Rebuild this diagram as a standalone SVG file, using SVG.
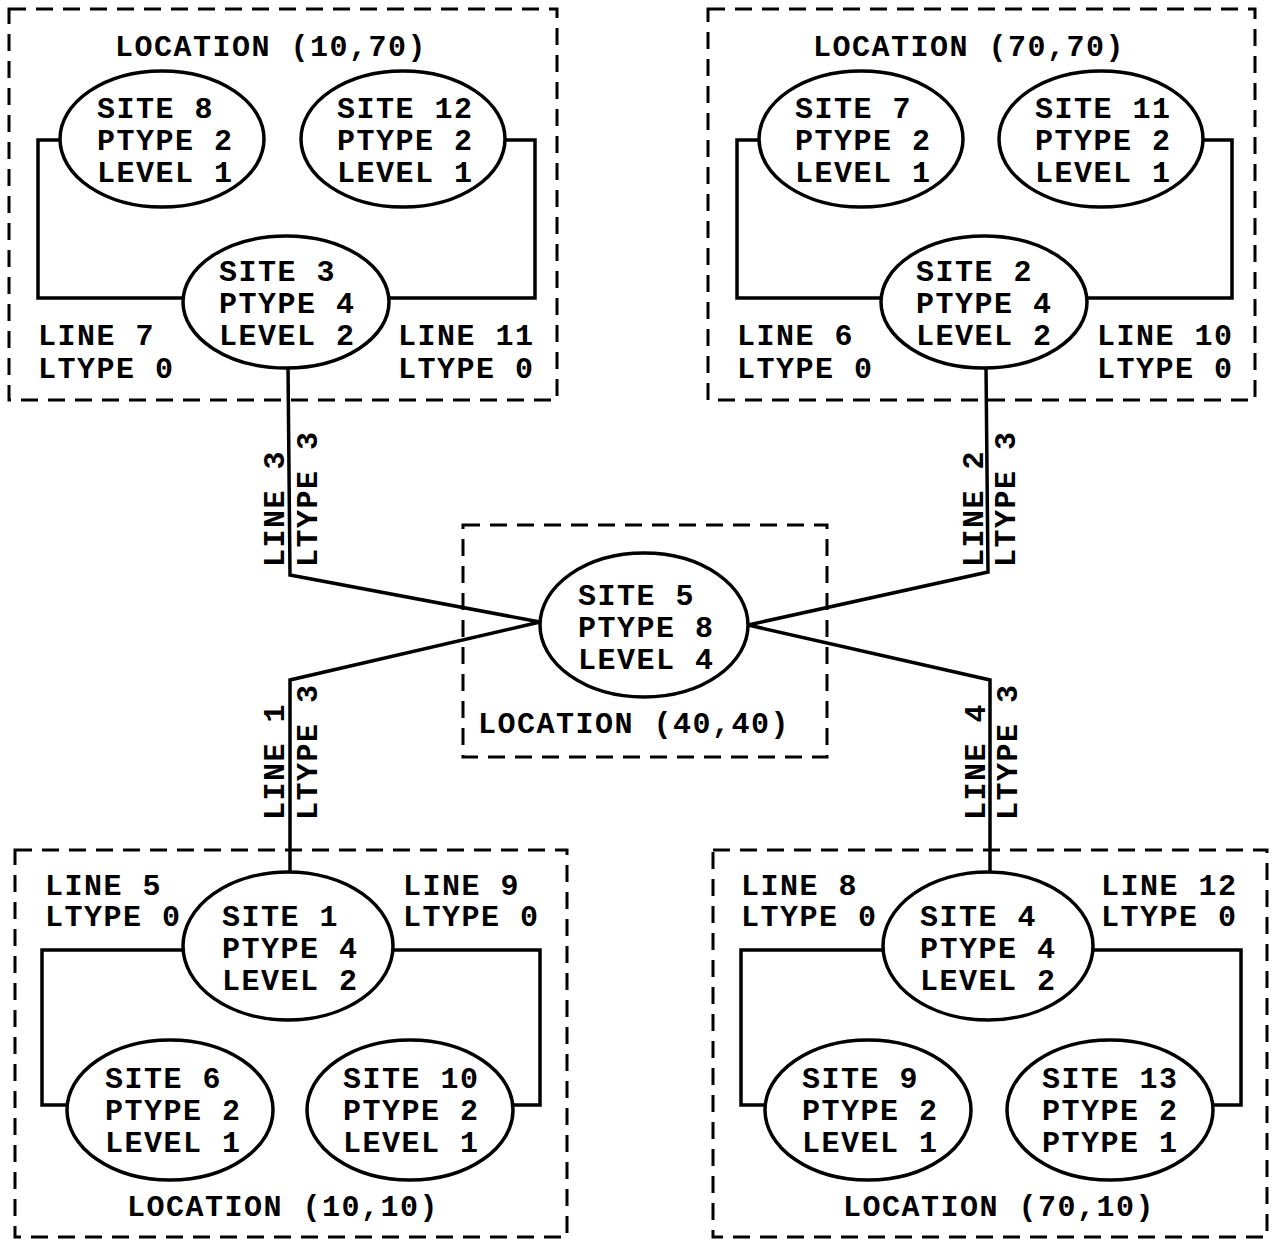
<svg xmlns="http://www.w3.org/2000/svg" width="1273" height="1241" viewBox="0 0 1273 1241">
<style>
.t{font-family:"Liberation Mono","DejaVu Sans Mono",monospace;font-weight:bold;font-size:30px;letter-spacing:1.5px;fill:#000}
.loc{fill:none;stroke:#000;stroke-width:3;stroke-dasharray:17 10}
.site{fill:#fff;stroke:#000;stroke-width:3.5}
.c{fill:none;stroke:#000;stroke-width:3.5}
</style>
<rect width="1273" height="1241" fill="#fff"/>
<g id="connectors">
<path class="c" d="M61,140 H38 V298 H183"/>
<path class="c" d="M505,140 H535 V298 H388"/>
<path class="c" d="M759,140 H737 V298 H882"/>
<path class="c" d="M1203,140 H1232 V298 H1087"/>
<path class="c" d="M183,950 H42 V1105 H67"/>
<path class="c" d="M393,950 H540 V1105 H513"/>
<path class="c" d="M883,950 H741 V1105 H766"/>
<path class="c" d="M1093,950 H1241 V1105 H1211"/>
<path class="c" d="M288,366 L290,575 L540,622"/>
<path class="c" d="M986,366 L988,572 L748,625"/>
<path class="c" d="M290,872 L290,680 L540,622"/>
<path class="c" d="M990,872 L990,680 L748,625"/>
<g class="t">
<text transform="translate(284,567) rotate(-90)">LINE 3</text>
<text transform="translate(317,567) rotate(-90)">LTYPE 3</text>
<text transform="translate(284,820) rotate(-90)">LINE 1</text>
<text transform="translate(317,820) rotate(-90)">LTYPE 3</text>
<text transform="translate(983,567) rotate(-90)">LINE 2</text>
<text transform="translate(1015,567) rotate(-90)">LTYPE 3</text>
<text transform="translate(985,820) rotate(-90)">LINE 4</text>
<text transform="translate(1017,820) rotate(-90)">LTYPE 3</text>
</g>
</g>
<g id="loc-10-70">
<rect class="loc" x="9" y="9" width="548" height="391"/>
<text class="t" x="115" y="56">LOCATION (10,70)</text>
<text class="t" x="38" y="345">LINE 7<tspan x="38" dy="33">LTYPE 0</tspan></text>
<text class="t" x="398" y="345">LINE 11<tspan x="398" dy="33">LTYPE 0</tspan></text>
</g>
<g id="site8"><ellipse class="site" cx="162" cy="139" rx="102" ry="68"/><text class="t" x="97" y="118">SITE 8<tspan x="97" dy="32">PTYPE 2</tspan><tspan x="97" dy="32">LEVEL 1</tspan></text></g>
<g id="site12"><ellipse class="site" cx="403" cy="139" rx="102" ry="68"/><text class="t" x="337" y="118">SITE 12<tspan x="337" dy="32">PTYPE 2</tspan><tspan x="337" dy="32">LEVEL 1</tspan></text></g>
<g id="site3"><ellipse class="site" cx="286" cy="302" rx="103" ry="66"/><text class="t" x="219" y="281">SITE 3<tspan x="219" dy="32">PTYPE 4</tspan><tspan x="219" dy="32">LEVEL 2</tspan></text></g>

<g id="loc-70-70">
<rect class="loc" x="708" y="9" width="547" height="391"/>
<text class="t" x="813" y="56">LOCATION (70,70)</text>
<text class="t" x="737" y="345">LINE 6<tspan x="737" dy="33">LTYPE 0</tspan></text>
<text class="t" x="1097" y="345">LINE 10<tspan x="1097" dy="33">LTYPE 0</tspan></text>
</g>
<g id="site7"><ellipse class="site" cx="861" cy="139" rx="102" ry="68"/><text class="t" x="795" y="118">SITE 7<tspan x="795" dy="32">PTYPE 2</tspan><tspan x="795" dy="32">LEVEL 1</tspan></text></g>
<g id="site11"><ellipse class="site" cx="1101" cy="139" rx="102" ry="68"/><text class="t" x="1035" y="118">SITE 11<tspan x="1035" dy="32">PTYPE 2</tspan><tspan x="1035" dy="32">LEVEL 1</tspan></text></g>
<g id="site2"><ellipse class="site" cx="984" cy="302" rx="103" ry="66"/><text class="t" x="916" y="281">SITE 2<tspan x="916" dy="32">PTYPE 4</tspan><tspan x="916" dy="32">LEVEL 2</tspan></text></g>

<g id="loc-40-40">
<rect class="loc" x="463" y="525" width="364" height="232"/>
<text class="t" x="478" y="733">LOCATION (40,40)</text>
</g>
<g id="site5"><ellipse class="site" cx="644" cy="625" rx="104" ry="72"/><text class="t" x="578" y="605">SITE 5<tspan x="578" dy="32">PTYPE 8</tspan><tspan x="578" dy="32">LEVEL 4</tspan></text></g>

<g id="loc-10-10">
<rect class="loc" x="15" y="850" width="552" height="387"/>
<text class="t" x="127" y="1216">LOCATION (10,10)</text>
<text class="t" x="45" y="895">LINE 5<tspan x="45" dy="31">LTYPE 0</tspan></text>
<text class="t" x="403" y="895">LINE 9<tspan x="403" dy="31">LTYPE 0</tspan></text>
</g>
<g id="site1"><ellipse class="site" cx="288" cy="946" rx="105" ry="74"/><text class="t" x="222" y="926">SITE 1<tspan x="222" dy="32">PTYPE 4</tspan><tspan x="222" dy="32">LEVEL 2</tspan></text></g>
<g id="site6"><ellipse class="site" cx="170" cy="1110" rx="103" ry="70"/><text class="t" x="105" y="1088">SITE 6<tspan x="105" dy="32">PTYPE 2</tspan><tspan x="105" dy="32">LEVEL 1</tspan></text></g>
<g id="site10"><ellipse class="site" cx="410" cy="1110" rx="103" ry="70"/><text class="t" x="343" y="1088">SITE 10<tspan x="343" dy="32">PTYPE 2</tspan><tspan x="343" dy="32">LEVEL 1</tspan></text></g>

<g id="loc-70-10">
<rect class="loc" x="713" y="850" width="554" height="387"/>
<text class="t" x="843" y="1216">LOCATION (70,10)</text>
<text class="t" x="741" y="895">LINE 8<tspan x="741" dy="31">LTYPE 0</tspan></text>
<text class="t" x="1101" y="895">LINE 12<tspan x="1101" dy="31">LTYPE 0</tspan></text>
</g>
<g id="site4"><ellipse class="site" cx="988" cy="946" rx="105" ry="74"/><text class="t" x="920" y="926">SITE 4<tspan x="920" dy="32">PTYPE 4</tspan><tspan x="920" dy="32">LEVEL 2</tspan></text></g>
<g id="site9"><ellipse class="site" cx="868" cy="1110" rx="103" ry="70"/><text class="t" x="802" y="1088">SITE 9<tspan x="802" dy="32">PTYPE 2</tspan><tspan x="802" dy="32">LEVEL 1</tspan></text></g>
<g id="site13"><ellipse class="site" cx="1110" cy="1110" rx="103" ry="70"/><text class="t" x="1042" y="1088">SITE 13<tspan x="1042" dy="32">PTYPE 2</tspan><tspan x="1042" dy="32">PTYPE 1</tspan></text></g>
</svg>
